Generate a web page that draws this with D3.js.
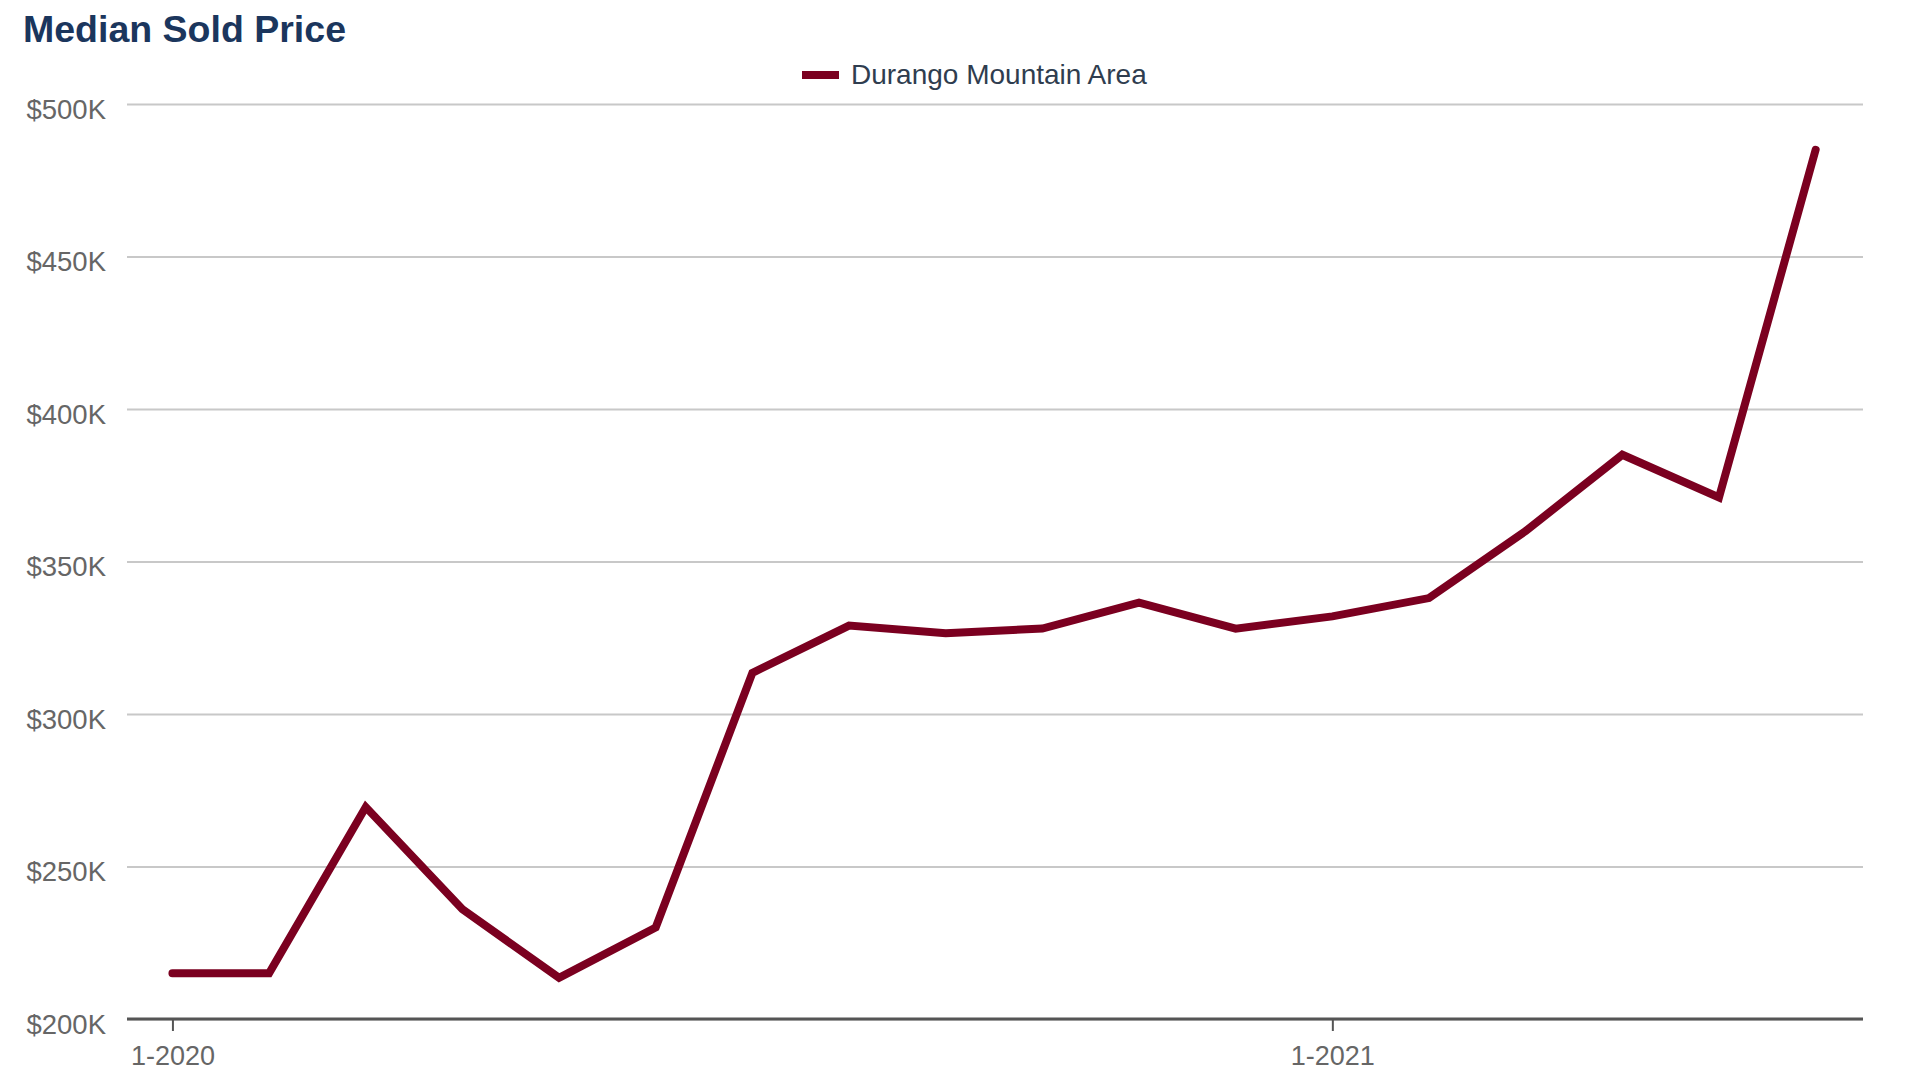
<!DOCTYPE html>
<html>
<head>
<meta charset="utf-8">
<script src="https://cdn.jsdelivr.net/npm/d3@7"></script>
<style>
  body { margin: 0; background: #fff; }
  svg { display: block; font-family: "Liberation Sans", Arial, sans-serif; }
</style>
</head>
<body>
<div id="chart"></div>
<script>
var months = ["1-2020","2-2020","3-2020","4-2020","5-2020","6-2020","7-2020","8-2020","9-2020",
              "10-2020","11-2020","12-2020","1-2021","2-2021","3-2021","4-2021","5-2021","6-2021"];
var prices = [215000, 215000, 269500, 236000, 213500, 230000, 313500, 329000, 326500,
              328000, 336500, 328000, 332000, 338000, 360000, 385000, 371000, 485000];
var seriesName = "Durango Mountain Area";
var yTicks = [200000, 250000, 300000, 350000, 400000, 450000, 500000];
var xTickLabels = ["1-2020", "1-2021"];

var width = 1920, height = 1080;
// plot box (window.top is read-only, so no "top" here)
var plotLeft = 127, plotRight = 1863, plotTop = 104, plotBottom = 1019;

var svg = d3.select("#chart").append("svg").attr("width", width).attr("height", height);

var x = d3.scaleLinear().domain([-0.47, months.length - 0.51]).range([plotLeft, plotRight]);
var y = d3.scaleLinear().domain([200000, 500000]).range([plotBottom, plotTop]);

// title
svg.append("text")
  .attr("x", 23).attr("y", 42)
  .attr("font-size", 37.5).attr("font-weight", "bold")
  .attr("fill", "#1b365d")
  .text("Median Sold Price");

// legend
var legend = svg.append("g").attr("transform", "translate(802,75)");
legend.append("line")
  .attr("x1", 0).attr("x2", 37).attr("y1", 0).attr("y2", 0)
  .attr("stroke", "#7b0020").attr("stroke-width", 8);
legend.append("text")
  .attr("x", 49).attr("y", 9)
  .attr("font-size", 28).attr("fill", "#2f3d4f")
  .text(seriesName);

// gridlines + y labels
var yAxis = d3.axisLeft(y)
  .tickValues(yTicks)
  .tickSize(-(plotRight - plotLeft))
  .tickFormat(function(d) { return "$" + (d / 1000) + "K"; });

svg.append("g")
  .attr("transform", "translate(" + plotLeft + ",0)")
  .call(yAxis)
  .call(function(g) {
    g.select(".domain").remove();
    g.selectAll(".tick line").attr("stroke", "#c8c8c8").attr("stroke-width", 2);
    g.selectAll(".tick text")
      .attr("x", -21).attr("dy", 14)
      .attr("font-size", 27.5).attr("fill", "#666")
      .attr("font-family", "Liberation Sans, Arial, sans-serif");
  });

// x axis
var xAxis = d3.axisBottom(x)
  .tickValues(xTickLabels.map(function(l) { return months.indexOf(l); }))
  .tickSize(12)
  .tickFormat(function(i) { return months[i]; });

svg.append("g")
  .attr("transform", "translate(0," + plotBottom + ")")
  .call(xAxis)
  .call(function(g) {
    g.select(".domain").attr("stroke", "#555").attr("stroke-width", 3)
      .attr("d", "M" + plotLeft + ",0H" + plotRight);
    g.selectAll(".tick line").attr("stroke", "#555").attr("stroke-width", 2);
    g.selectAll(".tick text")
      .attr("y", 27).attr("dy", "0.71em")
      .attr("font-size", 27).attr("fill", "#666")
      .attr("font-family", "Liberation Sans, Arial, sans-serif");
  });

// line
var line = d3.line()
  .x(function(d, i) { return x(i); })
  .y(function(d) { return y(d); });

svg.append("path")
  .datum(prices)
  .attr("d", line)
  .attr("fill", "none")
  .attr("stroke", "#7b0020")
  .attr("stroke-width", 8)
  .attr("stroke-linejoin", "miter")
  .attr("stroke-linecap", "round");
</script>
</body>
</html>
